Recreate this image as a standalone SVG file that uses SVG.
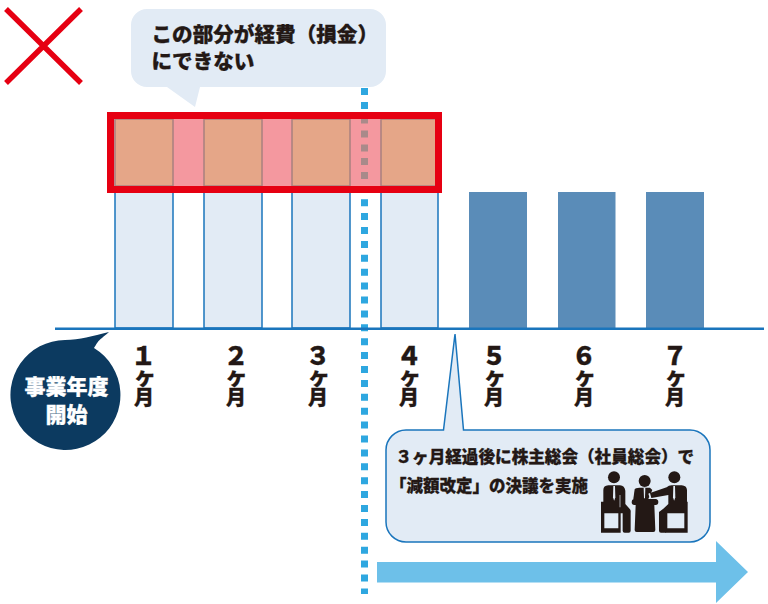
<svg xmlns="http://www.w3.org/2000/svg" width="768" height="604" viewBox="0 0 768 604">
<style>
text{font-family:"Noto Sans CJK JP","Noto Sans",sans-serif;font-weight:900;fill:#231815;stroke:#231815;stroke-width:.3}
.m{text-anchor:middle}
.w{fill:#fff;stroke:#fff}
.d{font-size:25px}
.k{font-size:22px}
.t{font-size:20px}
.lb{fill:#E2EBF5;stroke:#1A75BC;stroke-width:1.5}
.db{fill:#5A8CB8}
.or{fill:#E5A688;stroke:#A8807F;stroke-width:1.5}
.ic{fill:#231815}
.li{fill:#E2EBF5}
</style>
<rect width="768" height="604" fill="#fff"/>
<g id="cross" stroke="#E60012" stroke-width="5.5" fill="none"><path d="M6 9L81 83M81 9L6 83"/></g>
<g id="bars">
<rect class="lb" x="115" y="190" width="58" height="138"/>
<rect class="lb" x="204" y="190" width="58" height="138"/>
<rect class="lb" x="292" y="190" width="58" height="138"/>
<rect class="lb" x="381" y="190" width="57" height="138"/>
<rect class="db" x="469" y="192" width="58" height="136"/>
<rect class="db" x="558" y="192" width="57.500" height="136"/>
<rect class="db" x="646" y="192" width="58" height="136"/>
</g>
<g id="connectors">
<path d="M364.500 88V594" stroke="#2EA7E0" stroke-width="7" stroke-dasharray="7 6.900" fill="none"/>
<path d="M55 328.700H764" stroke="#1A75BC" stroke-width="2.500" fill="none"/>
</g>
<g id="highlight">
<rect x="110" y="115" width="329" height="75" fill="#F4989F"/>
<rect class="or" x="115" y="119" width="58" height="67"/>
<rect class="or" x="204" y="119" width="58" height="67"/>
<rect class="or" x="292" y="119" width="58" height="67"/>
<rect class="or" x="381" y="119" width="55" height="67"/>
<g fill="#A98A8A"><rect x="361" y="119" width="7" height="4.500"/><rect x="361" y="130.500" width="7" height="7"/><rect x="361" y="144.500" width="7" height="7"/><rect x="361" y="158" width="7" height="7"/><rect x="361" y="172" width="7" height="7"/></g>
<rect x="110.500" y="115.500" width="328" height="74" fill="none" stroke="#E60012" stroke-width="7"/>
</g>
<g id="bubble-top">
<path d="M147 9H370a16 16 0 0 1 16 16V71a16 16 0 0 1-16 16H200L195 107L167 87H147a16 16 0 0 1-16-16V25a16 16 0 0 1 16-16Z" fill="#E2EBF5"/>
<text x="151.500" y="42" font-size="20.600">この部分が経費（損金）</text>
<text x="151.500" y="69" font-size="20.600">にできない</text>
</g>
<g id="bubble-start">
<path d="M109 332C96 343 100 339 94 348A55 55 0 1 1 65 340C80 340 92 336 109 332Z" fill="#0C3A60"/>
<text class="m w" x="66.500" y="394" font-size="21">事業年度</text>
<text class="m w" x="66.500" y="422" font-size="21">開始</text>
</g>
<g id="m1"><text class="m"><tspan class="d" x="143.500" y="365">１</tspan><tspan class="k" x="145" y="384">ヶ</tspan><tspan class="t" x="144" y="405">月</tspan></text></g>
<g id="m2"><text class="m"><tspan class="d" x="236" y="365">２</tspan><tspan class="k" x="236.500" y="384">ヶ</tspan><tspan class="t" x="236" y="405">月</tspan></text></g>
<g id="m3"><text class="m"><tspan class="d" x="318" y="365">３</tspan><tspan class="k" x="319" y="384">ヶ</tspan><tspan class="t" x="318" y="405">月</tspan></text></g>
<g id="m4"><text class="m"><tspan class="d" x="409" y="365">４</tspan><tspan class="k" x="410" y="384">ヶ</tspan><tspan class="t" x="409" y="405">月</tspan></text></g>
<g id="m5"><text class="m"><tspan class="d" x="494" y="365">５</tspan><tspan class="k" x="495" y="384">ヶ</tspan><tspan class="t" x="494" y="405">月</tspan></text></g>
<g id="m6"><text class="m"><tspan class="d" x="584" y="365">６</tspan><tspan class="k" x="585" y="384">ヶ</tspan><tspan class="t" x="584" y="405">月</tspan></text></g>
<g id="m7"><text class="m"><tspan class="d" x="675" y="365">７</tspan><tspan class="k" x="676" y="384">ヶ</tspan><tspan class="t" x="675" y="405">月</tspan></text></g>
<g id="callout">
<path d="M406 430H443.500L455 334L463.500 430H690a20 20 0 0 1 20 20V522a20 20 0 0 1-20 20H406a20 20 0 0 1-20-20V450a20 20 0 0 1 20-20Z" fill="#E2EBF5" stroke="#1A75BC" stroke-width="1.500"/>
<text x="395.500" y="463" font-size="16.600">３ヶ月経過後に株主総会（社員総会）で</text>
<text x="390" y="492" font-size="16.500">「減額改定」の決議を実施</text>
</g>
<g id="people" transform="translate(590 460) scale(.3333)">
<circle class="ic" cx="72" cy="52" r="18"/><circle class="ic" cx="164" cy="63" r="18"/><circle class="ic" cx="253" cy="52" r="18"/>
<path class="ic" d="M33 125H43V205H85V155H92V218H33Z"/>
<path class="ic" d="M40 90Q40 77 55 76H90Q104 77 106 92V132L120 148Q123 152 122 158V212Q122 218 116 218H104Q98 218 98 212V160H40Z"/>
<path class="li" d="M70 78H75L76 112L72.500 122L69 112Z"/>
<path class="li" d="M89 105H91V142H89Z"/>
<path class="ic" d="M130 117L134 88Q136 83 148 83H180L187 90L175 117Z"/>
<path class="li" d="M161 84H166L165 115H162Z"/>
<path class="ic" d="M131 117H197Q205 118 205 126Q205 135 197 135H193L196 210Q196 216 190 216H140Q134 216 134 210L137 135H133Q125 135 125 126Q125 118 131 117Z"/>
<path class="ic" d="M293 125H283V205H232V155H225V218H293Z"/>
<path class="ic" d="M291 90Q290 77 275 76H245Q236 76 230 82L178 100L180 115L235 105V132L220 146L207 156V212Q207 218 213 218H224Q230 218 230 212V160H291Z"/>
<path class="li" d="M250 78H255L256 112L252.500 122L249 112Z"/>
<path class="li" d="M175 101L180 99L184 114L180 116Z"/>
</g>
<g id="arrow"><path d="M377 562H716V541L748 572L716 603V582.500H377Z" fill="#6DC0E9"/></g>
</svg>
